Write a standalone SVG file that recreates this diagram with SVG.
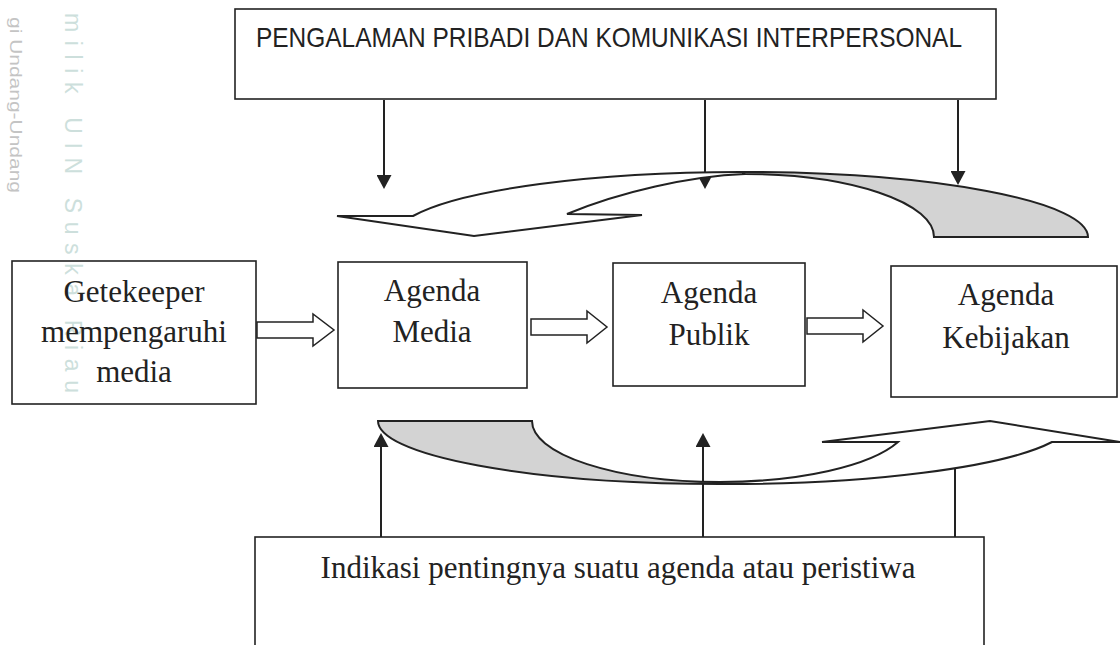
<svg xmlns="http://www.w3.org/2000/svg" width="1120" height="645" viewBox="0 0 1120 645">
<defs>
<style>
.box{fill:none;stroke:#222;stroke-width:1.6}
.lbl{font-family:"Liberation Serif","Times New Roman",serif;font-size:31px;fill:#222;text-anchor:middle}
.sans{font-family:"Liberation Sans Narrow","Liberation Sans",Arial,sans-serif;font-size:28px;fill:#222}
.conn{stroke:#222;stroke-width:2;fill:none}
.barrow{fill:#fff;stroke:#222;stroke-width:1.5;stroke-linejoin:miter}
.band{stroke:#222;stroke-width:2;stroke-linejoin:miter}
.wm{font-family:"Liberation Sans",Arial,sans-serif}
</style>
<marker id="ah" viewBox="0 0 14 15" markerWidth="14" markerHeight="15" refX="6" refY="7.5" orient="auto" markerUnits="userSpaceOnUse">
<path d="M0,0 L14,7.5 L0,15 z" fill="#222"/>
</marker>
</defs>
<rect width="1120" height="645" fill="#fff"/>
<g id="watermark">
<text class="wm" transform="translate(10,17) rotate(90)" font-size="17" fill="#c4c4c4" textLength="176" lengthAdjust="spacingAndGlyphs">gi Undang-Undang</text>
<text class="wm" transform="translate(65,13) rotate(90)" font-size="23" fill="#cddfdc" textLength="380" lengthAdjust="spacing">milik UIN Suska Riau</text>
</g>
<g id="connectors">
<line class="conn" x1="384" y1="100" x2="384" y2="181" marker-end="url(#ah)"/>
<line class="conn" x1="705" y1="100" x2="705" y2="181" marker-end="url(#ah)"/>
<line class="conn" x1="958" y1="100" x2="958" y2="177" marker-end="url(#ah)"/>
<line class="conn" x1="381" y1="537" x2="381" y2="441" marker-end="url(#ah)"/>
<line class="conn" x1="703" y1="537" x2="703" y2="441" marker-end="url(#ah)"/>
<line class="conn" x1="955" y1="537" x2="955" y2="450" marker-end="url(#ah)"/>
<path class="band" fill="#fff" d="M337,216 L413,216 A346,65 0 0 1 742,172 L745,174 C690,176 620,192 567,214 L642,215 L474,236 Z"/>
<path class="band" fill="#d3d3d3" d="M742,172 A346,65 0 0 1 1088,237 L934,237 A189,63 0 0 0 745,174 Z"/>
<path class="band" fill="#d3d3d3" d="M378,421 L532,421 A188,61 0 0 0 720,482 L720,484 A342,63 0 0 1 378,421 Z"/>
<path class="band" fill="#fff" d="M720,484 A345,63 0 0 0 1052,442 L1120,442 L990,421 L822,442 L898,442 A190,61 0 0 1 720,482 Z"/>
<path class="barrow" d="M257,322 H313 V314 L334,330 L313,346 V338 H257 Z"/>
<path class="barrow" d="M531,319 H587 V311 L607,327 L587,343 V335 H531 Z"/>
<path class="barrow" d="M807,318 H863 V310 L883,326 L863,342 V334 H807 Z"/>
</g>
<g id="node-pengalaman">
<rect class="box" x="235" y="9" width="761" height="90"/>
<text class="sans" x="256" y="47" textLength="706" lengthAdjust="spacingAndGlyphs">PENGALAMAN PRIBADI DAN KOMUNIKASI INTERPERSONAL</text>
</g>
<g id="node-getekeeper">
<rect class="box" x="12" y="261" width="244" height="143"/>
<text class="lbl" x="134" y="302">Getekeeper</text>
<text class="lbl" x="134" y="342">mempengaruhi</text>
<text class="lbl" x="134" y="382">media</text>
</g>
<g id="node-media">
<rect class="box" x="338" y="262" width="189" height="126"/>
<text class="lbl" x="432" y="301">Agenda</text>
<text class="lbl" x="432" y="342">Media</text>
</g>
<g id="node-publik">
<rect class="box" x="613" y="263" width="192" height="123"/>
<text class="lbl" x="709" y="303">Agenda</text>
<text class="lbl" x="709" y="345">Publik</text>
</g>
<g id="node-kebijakan">
<rect class="box" x="891" y="266" width="226" height="131"/>
<text class="lbl" x="1006" y="305">Agenda</text>
<text class="lbl" x="1006" y="348">Kebijakan</text>
</g>
<g id="node-indikasi">
<rect class="box" x="255" y="537" width="729" height="130"/>
<text class="lbl" x="618" y="578" font-size="32">Indikasi pentingnya suatu agenda atau peristiwa</text>
</g>
</svg>
